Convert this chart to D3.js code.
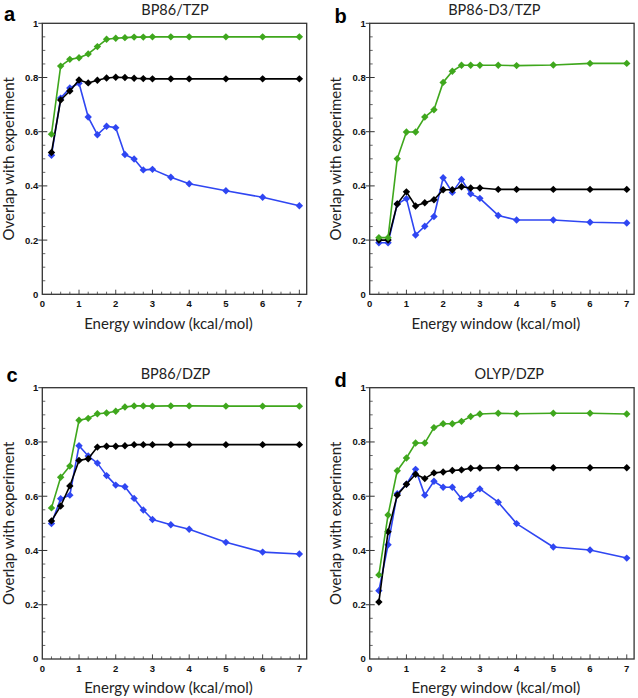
<!DOCTYPE html>
<html>
<head>
<meta charset="utf-8">
<script src="https://cdn.jsdelivr.net/npm/d3@7"></script>
<style>
  html, body { margin: 0; padding: 0; background: #fff; }
  svg { display: block; }
</style>
</head>
<body>
<svg id="chart" width="638" height="698"></svg>
<script>
// ---------------- data ----------------
const energyWindow = [0.25, 0.5, 0.75, 1, 1.25, 1.5, 1.75, 2, 2.25, 2.5, 2.75, 3, 3.5, 4, 5, 6, 7];
const xTickLabels = [0, 1, 2, 3, 4, 5, 6, 7];
const yTickLabels = [0, 0.2, 0.4, 0.6, 0.8, 1];
const panelLetters = ["a", "b", "c", "d"];
const panelTitles = ["BP86/TZP", "BP86-D3/TZP", "BP86/DZP", "OLYP/DZP"];
const seriesNames = ["blue", "black", "green"];

// panel a: BP86/TZP
const aGreen = [0.591, 0.842, 0.867, 0.873, 0.887, 0.914, 0.941, 0.945, 0.947, 0.949, 0.949, 0.950, 0.950, 0.950, 0.950, 0.950, 0.950];
const aBlack = [0.523, 0.717, 0.750, 0.791, 0.780, 0.790, 0.798, 0.801, 0.800, 0.797, 0.796, 0.795, 0.795, 0.795, 0.795, 0.795, 0.795];
const aBlue  = [0.513, 0.724, 0.761, 0.779, 0.654, 0.589, 0.620, 0.615, 0.516, 0.499, 0.459, 0.461, 0.432, 0.408, 0.382, 0.358, 0.327];
// panel b: BP86-D3/TZP
const bGreen = [0.209, 0.209, 0.500, 0.599, 0.599, 0.654, 0.681, 0.782, 0.823, 0.845, 0.845, 0.845, 0.845, 0.844, 0.846, 0.852, 0.852];
const bBlack = [0.200, 0.200, 0.333, 0.378, 0.326, 0.338, 0.349, 0.386, 0.386, 0.397, 0.392, 0.392, 0.387, 0.387, 0.387, 0.387, 0.387];
const bBlue  = [0.190, 0.190, 0.333, 0.353, 0.219, 0.251, 0.287, 0.430, 0.376, 0.424, 0.371, 0.354, 0.291, 0.274, 0.274, 0.266, 0.263];
// panel c: BP86/DZP
const cGreen = [0.557, 0.670, 0.711, 0.880, 0.887, 0.904, 0.907, 0.913, 0.929, 0.933, 0.933, 0.932, 0.933, 0.933, 0.932, 0.932, 0.932];
const cBlack = [0.509, 0.564, 0.638, 0.732, 0.738, 0.781, 0.784, 0.784, 0.786, 0.790, 0.790, 0.790, 0.790, 0.790, 0.790, 0.790, 0.790];
const cBlue  = [0.499, 0.591, 0.604, 0.786, 0.748, 0.722, 0.676, 0.641, 0.635, 0.592, 0.549, 0.514, 0.495, 0.478, 0.430, 0.394, 0.387];
// panel d: OLYP/DZP
const dGreen = [0.310, 0.531, 0.694, 0.741, 0.796, 0.796, 0.853, 0.867, 0.867, 0.876, 0.894, 0.903, 0.906, 0.904, 0.906, 0.906, 0.903];
const dBlack = [0.210, 0.469, 0.604, 0.644, 0.681, 0.665, 0.686, 0.689, 0.695, 0.697, 0.703, 0.704, 0.705, 0.705, 0.705, 0.705, 0.705];
const dBlue  = [0.252, 0.421, 0.609, 0.644, 0.699, 0.604, 0.655, 0.633, 0.633, 0.591, 0.603, 0.627, 0.578, 0.499, 0.413, 0.402, 0.372];

// ---------------- layout ----------------
const colors = { green: "#3fa71d", black: "#000000", blue: "#2f46f2" };
const panelData = [
  { blue: aBlue, black: aBlack, green: aGreen },
  { blue: bBlue, black: bBlack, green: bGreen },
  { blue: cBlue, black: cBlack, green: cGreen },
  { blue: dBlue, black: dBlack, green: dGreen }
];
const layout = [
  { left: 42.3,  top: 23.3,  h: 271.0, titleX: 132.7, letterX: 4,     letterY: 20.5 },
  { left: 369.7, top: 23.3,  h: 271.0, titleX: 124.6, letterX: 334.5, letterY: 23 },
  { left: 42.3,  top: 387.7, h: 271.3, titleX: 133.2, letterX: 6.5,   letterY: 382 },
  { left: 369.7, top: 387.7, h: 271.3, titleX: 139.6, letterX: 334.5, letterY: 387 }
];
const W = 264.4;
const labelFont = "Lato, 'Open Sans', sans-serif";
const tickFont = "'Liberation Sans', Arial, sans-serif";

const svg = d3.select("#chart");

panelLetters.forEach((letter, i) => {
  const L = layout[i];
  const H = L.h;
  const g = svg.append("g").attr("transform", `translate(${L.left},${L.top})`);
  const x = d3.scaleLinear().domain([0, 7.2]).range([0, W]);
  const y = d3.scaleLinear().domain([0, 1]).range([H, 0]);

  // minor/major ticks on x (inside)
  const xMinor = d3.range(0.25, 7.2, 0.25).filter(v => Math.abs(v - Math.round(v)) > 1e-6);
  g.selectAll(".xminor").data(xMinor).join("line")
    .attr("x1", d => x(d)).attr("x2", d => x(d))
    .attr("y1", H).attr("y2", H - 2.6)
    .attr("stroke", "#555").attr("stroke-width", 0.9);
  g.selectAll(".xmajor").data(xTickLabels.filter(v => v > 0)).join("line")
    .attr("x1", d => x(d)).attr("x2", d => x(d))
    .attr("y1", H).attr("y2", H - 4.6)
    .attr("stroke", "#444").attr("stroke-width", 1);

  // y ticks
  const yMinor = d3.range(0.05, 1, 0.05).filter(v => Math.abs(v * 5 - Math.round(v * 5)) > 1e-6);
  g.selectAll(".yminor").data(yMinor).join("line")
    .attr("x1", 0).attr("x2", 3)
    .attr("y1", d => y(d)).attr("y2", d => y(d))
    .attr("stroke", "#555").attr("stroke-width", 0.9);
  g.selectAll(".ymajor").data(yTickLabels.filter(v => v > 0)).join("line")
    .attr("x1", -4).attr("x2", d => d < 1 ? 5 : 0)
    .attr("y1", d => y(d)).attr("y2", d => y(d))
    .attr("stroke", "#333").attr("stroke-width", 1);

  // frame
  g.append("rect").attr("x", 0).attr("y", 0).attr("width", W).attr("height", H)
    .attr("fill", "none").attr("stroke", "#333").attr("stroke-width", 1.3);

  // tick labels
  g.selectAll(".xl").data(xTickLabels).join("text")
    .attr("x", d => x(d)).attr("y", H + 12.8)
    .attr("text-anchor", "middle")
    .attr("font-family", tickFont).attr("font-weight", "bold").attr("font-size", 9.5)
    .attr("fill", "#111")
    .text(d => d3.format("d")(d));
  g.selectAll(".yl").data(yTickLabels).join("text")
    .attr("x", -4).attr("y", d => y(d)).attr("dy", "0.36em")
    .attr("text-anchor", "end")
    .attr("font-family", tickFont).attr("font-weight", "bold").attr("font-size", 9.5)
    .attr("fill", "#111")
    .text(d => (d === 0 || d === 1) ? String(d) : d3.format(".1f")(d));

  // series
  const line = d3.line().x((d, k) => x(energyWindow[k])).y(d => y(d));
  const diamond = r => `M0,${-r}L${r},0L0,${r}L${-r},0Z`;
  seriesNames.forEach(name => {
    const vals = panelData[i][name];
    g.append("path").datum(vals)
      .attr("d", line)
      .attr("fill", "none").attr("stroke", colors[name]).attr("stroke-width", 1.6)
      .attr("stroke-linejoin", "round");
    g.selectAll(".m-" + name).data(vals).join("path")
      .attr("transform", (d, k) => `translate(${x(energyWindow[k])},${y(d)})`)
      .attr("d", diamond(3.7))
      .attr("fill", colors[name]);
  });

  // axis titles
  g.append("text")
    .attr("x", W / 2 - 6).attr("y", H + 34.5)
    .attr("text-anchor", "middle")
    .attr("font-family", labelFont).attr("font-size", 15).attr("fill", "#222")
    .text("Energy window (kcal/mol)");
  g.append("text")
    .attr("transform", `translate(-28.3,${H / 2}) rotate(-90)`)
    .attr("text-anchor", "middle")
    .attr("font-family", labelFont).attr("font-size", 15).attr("fill", "#222")
    .text("Overlap with experiment");

  // title
  g.append("text")
    .attr("x", L.titleX).attr("y", -8.8)
    .attr("text-anchor", "middle")
    .attr("font-family", labelFont).attr("font-size", 14.5).attr("fill", "#222")
    .text(panelTitles[i]);

  // panel letter
  svg.append("text")
    .attr("x", L.letterX).attr("y", L.letterY)
    .attr("font-family", tickFont).attr("font-weight", "bold").attr("font-size", 20)
    .attr("fill", "#000")
    .text(letter);
});
</script>
</body>
</html>
